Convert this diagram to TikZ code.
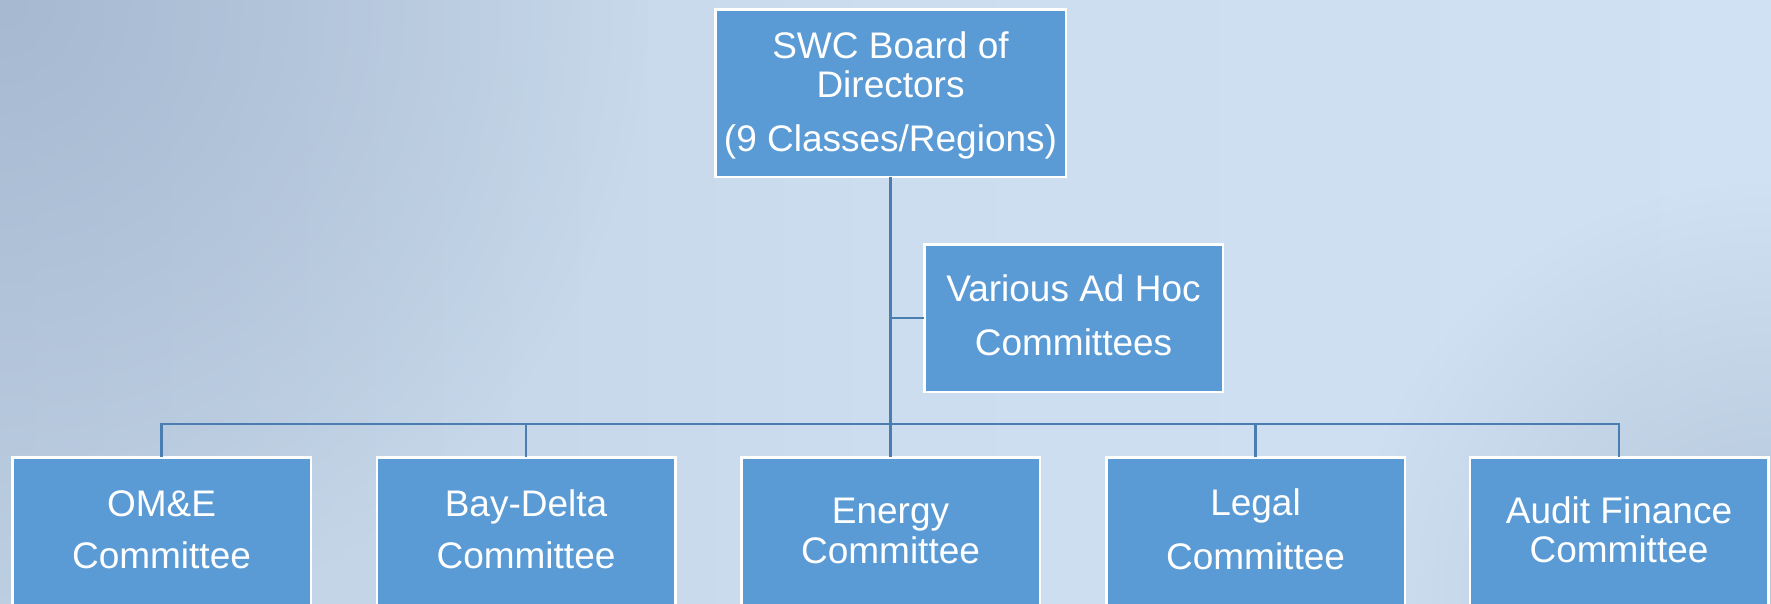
\documentclass[tikz,border=0pt]{standalone}
\usepackage{fontspec}
\setmainfont{Liberation Sans}
\usetikzlibrary{fadings}
\definecolor{boxblue}{HTML}{5B9BD5}
\definecolor{linkblue}{HTML}{4A7DB0}
\definecolor{bgleft}{HTML}{BFD0E3}
\definecolor{bgmid}{HTML}{CBDDEE}
\definecolor{bgright}{HTML}{CFE1F2}
\definecolor{bgdark}{HTML}{A6B9D1}
\definecolor{bgbr}{HTML}{B3C5D9}
\tikzfading[name=radfade, inner color=transparent!0, outer color=transparent!100]
\tikzset{
  box/.style={draw=white, line width=2.5pt, fill=boxblue, inner sep=0pt, outer sep=0pt},
  conn/.style={draw=linkblue, line width=2.5pt},
  txt/.style={text=white, inner sep=0pt, anchor=base, font=\fontsize{37}{40}\selectfont}
}
\begin{document}
\begin{tikzpicture}[x=1pt,y=-1pt]
\useasboundingbox (0,0) rectangle (1771,603);
\clip (0,0) rectangle (1771,603);
% background
\shade[left color=bgleft, right color=bgright, middle color=bgmid] (0,0) rectangle (1771,603);
\fill[bgdark, path fading=radfade] (0,0) circle (650);
\fill[bgbr, path fading=radfade] (1771,603) circle (420);
% boxes
\node[box, minimum width=350.5pt, minimum height=167.5pt] (top) at (890.5,93) {};
\node[box, minimum width=298.5pt, minimum height=147.5pt] (adhoc) at (1073.5,318) {};
\node[box, minimum width=298.5pt, minimum height=181.5pt] (ome) at (161.5,548) {};
\node[box, minimum width=298.5pt, minimum height=181.5pt] (bay) at (526,548) {};
\node[box, minimum width=298.5pt, minimum height=181.5pt] (energy) at (890.5,548) {};
\node[box, minimum width=298.5pt, minimum height=181.5pt] (legal) at (1255.5,548) {};
\node[box, minimum width=298.5pt, minimum height=181.5pt] (audit) at (1619,548) {};
% connectors
\coordinate (bus) at (890.5,424);
\draw[conn] (top.south) -- (energy.north);
\draw[conn] (adhoc.west) -- (adhoc.west -| top.south);
\draw[conn] (ome.north) |- (bus) -| (audit.north);
\draw[conn] (bay.north) -- (bay.north |- bus);
\draw[conn] (legal.north) -- (legal.north |- bus);
% texts
\node[txt] (t1) at (890.5,58) {SWC Board of};
\node[txt] (t2) at (890.5,97.5) {Directors};
\node[txt] (t3) at (890.5,151) {(9 Classes/Regions)};
\node[txt] (a1) at (1073.5,301.5) {Various Ad Hoc};
\node[txt] (a2) at (1073.5,355) {Committees};
\node[txt] (o1) at (161.5,516) {OM\&E};
\node[txt] (o2) at (161.5,568.5) {Committee};
\node[txt] (b1) at (526,516) {Bay-Delta};
\node[txt] (b2) at (526,568.5) {Committee};
\node[txt] (e1) at (890.5,523) {Energy};
\node[txt] (e2) at (890.5,563) {Committee};
\node[txt] (l1) at (1255.5,515) {Legal};
\node[txt] (l2) at (1255.5,569) {Committee};
\node[txt] (u1) at (1619,523) {Audit Finance};
\node[txt] (u2) at (1619,562) {Committee};
\end{tikzpicture}
\end{document}
